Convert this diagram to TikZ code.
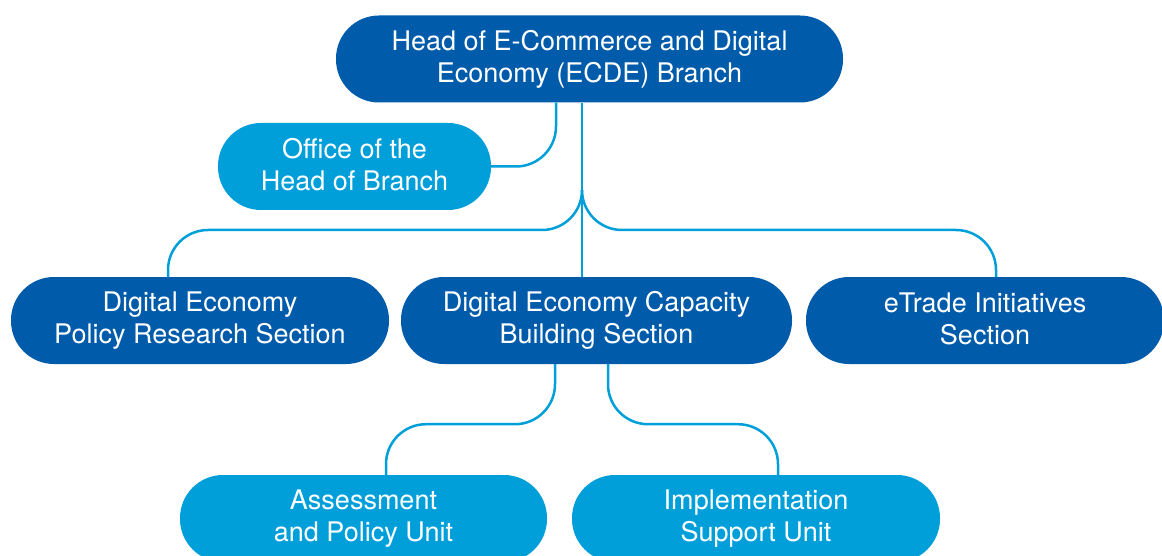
\documentclass[tikz,border=0pt]{standalone}
\usepackage{fontspec}
\setmainfont{TeX Gyre Heros}
\definecolor{ecdeDark}{HTML}{005BAA}
\definecolor{ecdeLight}{HTML}{009FDA}

\begin{document}
\begin{tikzpicture}[x=1pt,y=-1pt,
  box/.style={rectangle,rounded corners=43pt,minimum height=87pt,inner sep=0pt,
    align=center,text=white,font=\fontsize{27}{32}\selectfont,
    execute at begin node=\rule{0pt}{27pt},execute at end node=\rule[-4pt]{0pt}{4pt}},
  dark node/.style={box,fill=ecdeDark},
  light node/.style={box,fill=ecdeLight},
  link/.style={draw=ecdeLight,line width=2.5pt,rounded corners=40pt}]

  \useasboundingbox (0,0) rectangle (1162,556);
  \clip (0,0) rectangle (1162,556);

  \node[dark node,minimum width=507pt] (head) at (589.5,59) {Head of E-Commerce and Digital\\Economy (ECDE) Branch};
  \node[light node,minimum width=273pt] (office) at (354.5,166.5) {Office of the\\Head of Branch};
  \node[dark node,minimum width=378pt] (policy) at (200,320.5) {Digital Economy\\Policy Research Section};
  \node[dark node,minimum width=391pt] (capacity) at (596.5,320.5) {Digital Economy Capacity\\Building Section};
  \node[dark node,minimum width=358pt] (etrade) at (985,320.5) {eTrade Initiatives\\Section};
  \node[light node,minimum width=367pt] (assess) at (363.5,518.5) {Assessment\\and Policy Unit};
  \node[light node,minimum width=368pt] (impl) at (756,518.5) {Implementation\\Support Unit};

  \coordinate (split) at (582,190);

  % head of branch
  \draw[link] ([xshift=-33.5pt]head.south) |- (office.east);
  \draw[link] ([xshift=-7.5pt]head.south) -- ([xshift=-14.5pt]capacity.north);
  \draw[link] (split) -- ++(0,40) -| ([xshift=-32pt]policy.north);
  \draw[link] (split) -- ++(0,40) -| ([xshift=11pt]etrade.north);

  % capacity building units
  \draw[link] ([xshift=-41.5pt]capacity.south) -- ++(0,60) -| ([xshift=22.5pt]assess.north);
  \draw[link] ([xshift=11.5pt]capacity.south) -- ++(0,60) -| ([xshift=22pt]impl.north);

\end{tikzpicture}
\end{document}
